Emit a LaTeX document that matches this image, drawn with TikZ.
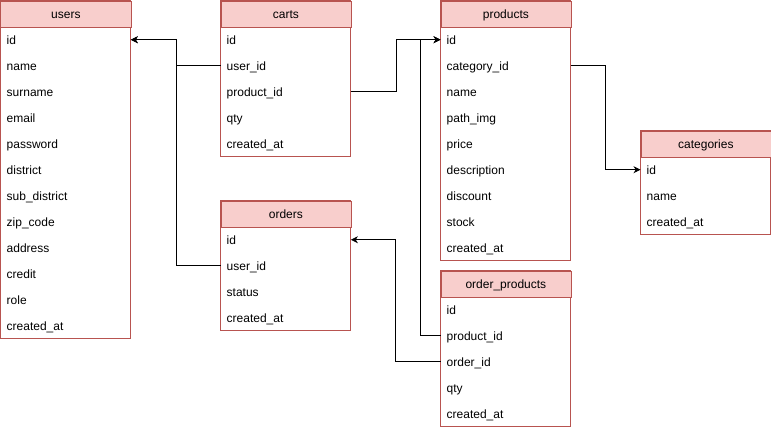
\documentclass[tikz,border=0pt]{standalone}
\usepackage{fontspec}
\setmainfont{Liberation Sans}
\usetikzlibrary{arrows.meta}
\definecolor{hdrfill}{HTML}{F8CECC}
\definecolor{hdrline}{HTML}{B85450}
\tikzset{
  hdr/.style={draw=hdrline, fill=hdrfill, anchor=north west, minimum width=130bp, minimum height=26bp, inner sep=0pt, font=\fontsize{12bp}{14bp}\selectfont, text height=12bp, text depth=2bp},
  rowbox/.style={anchor=north west, text width=118bp, align=left, inner xsep=6bp, inner ysep=0pt, minimum height=26bp, font=\fontsize{12bp}{14bp}\selectfont, text height=12bp, text depth=2bp},
  outline/.style={draw=hdrline, line width=0.75bp},
  link/.style={draw=black, line width=0.75bp, -{Stealth[length=7bp,width=7bp,inset=2.2bp]}}
}
\newcommand{\erdtable}[6]{%
  % #1 name, #2 x, #3 y, #4 title, #5 rows count, #6 rows
  \draw[outline, fill=white] (#2,#3) rectangle ++(130,{26+26*#5});
  \node[hdr, line width=0.75bp] (#1) at (#2,#3) {#4};
  \foreach \r [count=\i] in {#6} {
    \node[rowbox] (#1-\i) at (#2,{#3+26*\i}) {\r};
  }
}
\begin{document}
\begin{tikzpicture}[x=1bp,y=-1bp]
\useasboundingbox[fill=white] (0,0) rectangle (771,430);
\erdtable{users}{0.5}{0.5}{users}{12}{id,name,surname,email,password,district,sub\_district,zip\_code,address,credit,role,created\_at}
\erdtable{carts}{220.5}{0.5}{carts}{5}{id,user\_id,product\_id,qty,created\_at}
\erdtable{products}{440.5}{0.5}{products}{9}{id,category\_id,name,path\_img,price,description,discount,stock,created\_at}
\erdtable{orders}{220.5}{200.5}{orders}{4}{id,user\_id,status,created\_at}
\erdtable{op}{440.5}{270.5}{order\_products}{5}{id,product\_id,order\_id,qty,created\_at}
\erdtable{categories}{640.5}{130.5}{categories}{3}{id,name,created\_at}
\draw[link] (carts-2.west) -- ++(-44.5,0) |- (users-1.east);
\draw[link] (orders-2.west) -- ++(-44.5,0) |- (users-1.east);
\draw[link] (carts-3.east) -- ++(45.5,0) |- (products-1.west);
\draw[link] (op-2.west) -- ++(-20,0) |- (products-1.west);
\draw[link] (op-3.west) -- ++(-45,0) |- (orders-1.east);
\draw[link] (products-2.east) -- ++(34.5,0) |- (categories-1.west);
\end{tikzpicture}
\end{document}
